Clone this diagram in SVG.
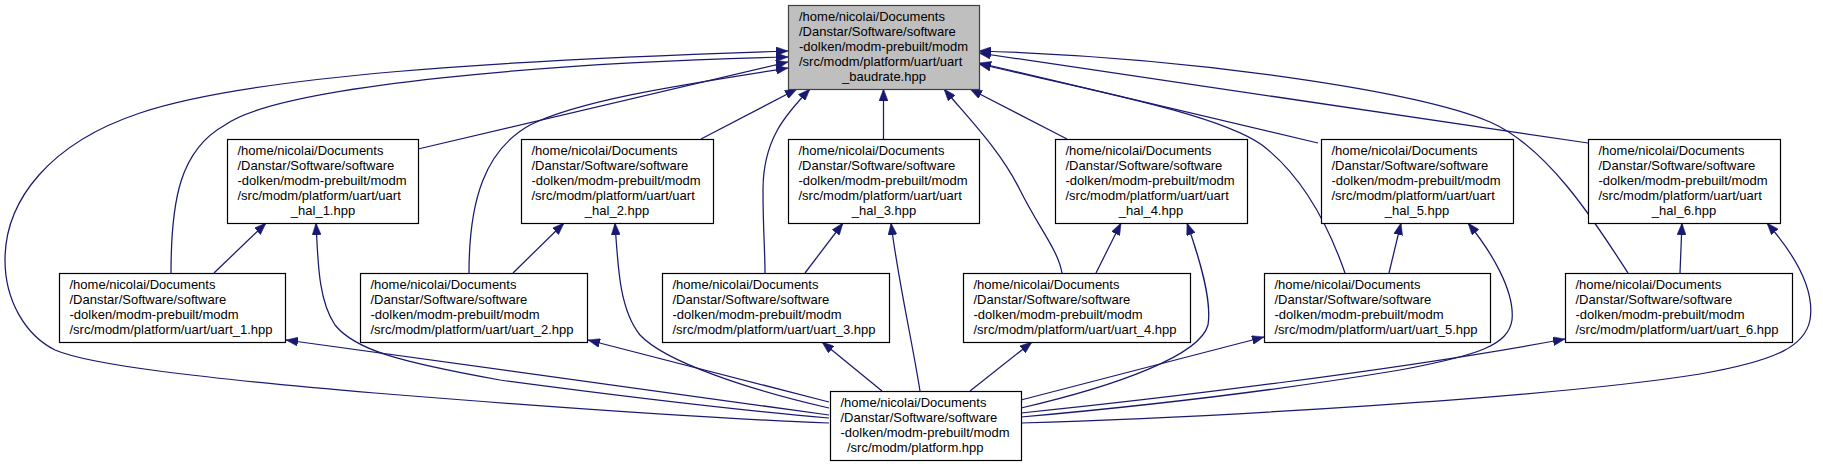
<svg xmlns="http://www.w3.org/2000/svg" width="1823" height="467" viewBox="0 0 1823 467">
<style>
.n rect{fill:#fff;stroke:#000;stroke-width:1.2}
#n_top rect{fill:#bfbfbf;stroke:#404040}
text{font-family:"Liberation Sans",Arial,Helvetica,sans-serif;font-size:13px;fill:#000}
.c{text-anchor:middle}
#edges path{fill:none;stroke:#191970;stroke-width:1.25;marker-start:url(#ah)}
</style>
<defs>
<marker id="ah" viewBox="0 0 12 9" refX="12" refY="4.5" markerWidth="12" markerHeight="9" markerUnits="userSpaceOnUse" orient="auto-start-reverse">
<path d="M0,0 L12,4.5 L0,9 z" fill="#191970" stroke="#191970" stroke-width="0.5"/>
</marker>
</defs>
<rect width="1823" height="467" fill="#fff"/>
<g id="edges">
<path d="M788,51 C 500,60 250,76 140,113 C 50,143 5,200 5,260 C 5,300 25,335 55,350 C 90,365 200,378 375,393 C 560,408 700,418 829,423"/>
<path d="M788,57 C 560,62 280,85 225,125 C 180,150 171,200 171,273"/>
<path d="M788,62 L418,149"/>
<path d="M788,68 C 680,85 580,100 530,125 C 485,150 469,200 469,273"/>
<path d="M797,89 L701,139"/>
<path d="M810,89 C 785,115 763,140 763,190 C 763,230 765,250 765,273"/>
<path d="M883.5,89 L883.5,139"/>
<path d="M944,89 C 970,120 1000,150 1020,190 C 1040,230 1058,250 1062,273"/>
<path d="M970,89 L1067,139"/>
<path d="M979,53 L1588,143"/>
<path d="M979,51 C 1200,58 1420,92 1490,122 C 1550,148 1600,230 1628,273"/>
<path d="M979,63 L1318,143"/>
<path d="M979,64 C 1100,92 1220,115 1262,145 C 1305,178 1330,230 1345,273"/>
<path d="M266,223 L214,273"/>
<path d="M316,223 C 318,260 318,300 335,325 C 355,350 400,362 500,380 C 650,400 760,412 829,418"/>
<path d="M564,223 L513,273"/>
<path d="M615,223 C 618,270 620,310 640,335 C 665,362 750,390 829,408"/>
<path d="M843,223 L805,273"/>
<path d="M891,223 C 898,280 912,340 920,391"/>
<path d="M1121,223 L1096,273"/>
<path d="M1187,223 C 1200,260 1212,300 1208,325 C 1200,355 1120,385 1021,408"/>
<path d="M1401,223 L1389,273"/>
<path d="M1468,223 C 1490,250 1515,290 1512,320 C 1508,345 1480,355 1400,370 C 1250,395 1100,410 1021,417"/>
<path d="M1682,223 L1680,273"/>
<path d="M1767,223 C 1795,255 1815,290 1810,320 C 1805,345 1780,360 1700,374 C 1550,398 1200,418 1021,423"/>
<path d="M286,340 L829,415"/>
<path d="M588,340 L829,402"/>
<path d="M822,342 L882,391"/>
<path d="M1032,342 L970,391"/>
<path d="M1264,337 L1021,400"/>
<path d="M1565,339 C 1400,370 1150,400 1021,413"/>
</g>
<g id="n_top" class="n">
<rect x="788.5" y="5.5" width="191" height="84"/>
<text><tspan x="799" y="21">/home/nicolai/Documents</tspan><tspan x="799" y="36">/Danstar/Software/software</tspan><tspan x="799" y="51">-dolken/modm-prebuilt/modm</tspan><tspan x="799" y="66">/src/modm/platform/uart/uart</tspan><tspan class="c" x="884" y="81">_baudrate.hpp</tspan></text>
</g>
<g id="n_hal1" class="n">
<rect x="227.5" y="139.5" width="191" height="84"/>
<text><tspan x="237.5" y="155">/home/nicolai/Documents</tspan><tspan x="237.5" y="170">/Danstar/Software/software</tspan><tspan x="237.5" y="185">-dolken/modm-prebuilt/modm</tspan><tspan x="237.5" y="200">/src/modm/platform/uart/uart</tspan><tspan class="c" x="323" y="215">_hal_1.hpp</tspan></text>
</g>
<g id="n_hal2" class="n">
<rect x="521.5" y="139.5" width="192" height="84"/>
<text><tspan x="531.5" y="155">/home/nicolai/Documents</tspan><tspan x="531.5" y="170">/Danstar/Software/software</tspan><tspan x="531.5" y="185">-dolken/modm-prebuilt/modm</tspan><tspan x="531.5" y="200">/src/modm/platform/uart/uart</tspan><tspan class="c" x="617" y="215">_hal_2.hpp</tspan></text>
</g>
<g id="n_hal3" class="n">
<rect x="788.5" y="139.5" width="191" height="84"/>
<text><tspan x="798.5" y="155">/home/nicolai/Documents</tspan><tspan x="798.5" y="170">/Danstar/Software/software</tspan><tspan x="798.5" y="185">-dolken/modm-prebuilt/modm</tspan><tspan x="798.5" y="200">/src/modm/platform/uart/uart</tspan><tspan class="c" x="884" y="215">_hal_3.hpp</tspan></text>
</g>
<g id="n_hal4" class="n">
<rect x="1055.5" y="139.5" width="192" height="84"/>
<text><tspan x="1065.5" y="155">/home/nicolai/Documents</tspan><tspan x="1065.5" y="170">/Danstar/Software/software</tspan><tspan x="1065.5" y="185">-dolken/modm-prebuilt/modm</tspan><tspan x="1065.5" y="200">/src/modm/platform/uart/uart</tspan><tspan class="c" x="1151" y="215">_hal_4.hpp</tspan></text>
</g>
<g id="n_hal5" class="n">
<rect x="1321.5" y="139.5" width="192" height="84"/>
<text><tspan x="1331.5" y="155">/home/nicolai/Documents</tspan><tspan x="1331.5" y="170">/Danstar/Software/software</tspan><tspan x="1331.5" y="185">-dolken/modm-prebuilt/modm</tspan><tspan x="1331.5" y="200">/src/modm/platform/uart/uart</tspan><tspan class="c" x="1417" y="215">_hal_5.hpp</tspan></text>
</g>
<g id="n_hal6" class="n">
<rect x="1588.5" y="139.5" width="192" height="84"/>
<text><tspan x="1598.5" y="155">/home/nicolai/Documents</tspan><tspan x="1598.5" y="170">/Danstar/Software/software</tspan><tspan x="1598.5" y="185">-dolken/modm-prebuilt/modm</tspan><tspan x="1598.5" y="200">/src/modm/platform/uart/uart</tspan><tspan class="c" x="1684" y="215">_hal_6.hpp</tspan></text>
</g>
<g id="n_uart1" class="n">
<rect x="59.5" y="273.5" width="226" height="69"/>
<text><tspan x="69.5" y="289">/home/nicolai/Documents</tspan><tspan x="69.5" y="304">/Danstar/Software/software</tspan><tspan x="69.5" y="319">-dolken/modm-prebuilt/modm</tspan><tspan x="69.5" y="334">/src/modm/platform/uart/uart_1.hpp</tspan></text>
</g>
<g id="n_uart2" class="n">
<rect x="360.5" y="273.5" width="227" height="69"/>
<text><tspan x="370.5" y="289">/home/nicolai/Documents</tspan><tspan x="370.5" y="304">/Danstar/Software/software</tspan><tspan x="370.5" y="319">-dolken/modm-prebuilt/modm</tspan><tspan x="370.5" y="334">/src/modm/platform/uart/uart_2.hpp</tspan></text>
</g>
<g id="n_uart3" class="n">
<rect x="662.5" y="273.5" width="227" height="69"/>
<text><tspan x="672.5" y="289">/home/nicolai/Documents</tspan><tspan x="672.5" y="304">/Danstar/Software/software</tspan><tspan x="672.5" y="319">-dolken/modm-prebuilt/modm</tspan><tspan x="672.5" y="334">/src/modm/platform/uart/uart_3.hpp</tspan></text>
</g>
<g id="n_uart4" class="n">
<rect x="963.5" y="273.5" width="227" height="69"/>
<text><tspan x="973.5" y="289">/home/nicolai/Documents</tspan><tspan x="973.5" y="304">/Danstar/Software/software</tspan><tspan x="973.5" y="319">-dolken/modm-prebuilt/modm</tspan><tspan x="973.5" y="334">/src/modm/platform/uart/uart_4.hpp</tspan></text>
</g>
<g id="n_uart5" class="n">
<rect x="1264.5" y="273.5" width="226" height="69"/>
<text><tspan x="1274.5" y="289">/home/nicolai/Documents</tspan><tspan x="1274.5" y="304">/Danstar/Software/software</tspan><tspan x="1274.5" y="319">-dolken/modm-prebuilt/modm</tspan><tspan x="1274.5" y="334">/src/modm/platform/uart/uart_5.hpp</tspan></text>
</g>
<g id="n_uart6" class="n">
<rect x="1565.5" y="273.5" width="227" height="69"/>
<text><tspan x="1575.5" y="289">/home/nicolai/Documents</tspan><tspan x="1575.5" y="304">/Danstar/Software/software</tspan><tspan x="1575.5" y="319">-dolken/modm-prebuilt/modm</tspan><tspan x="1575.5" y="334">/src/modm/platform/uart/uart_6.hpp</tspan></text>
</g>
<g id="n_platform" class="n">
<rect x="830.5" y="391.5" width="191" height="69"/>
<text><tspan x="840.5" y="407">/home/nicolai/Documents</tspan><tspan x="840.5" y="422">/Danstar/Software/software</tspan><tspan x="840.5" y="437">-dolken/modm-prebuilt/modm</tspan><tspan x="847" y="452">/src/modm/platform.hpp</tspan></text>
</g>
</svg>
